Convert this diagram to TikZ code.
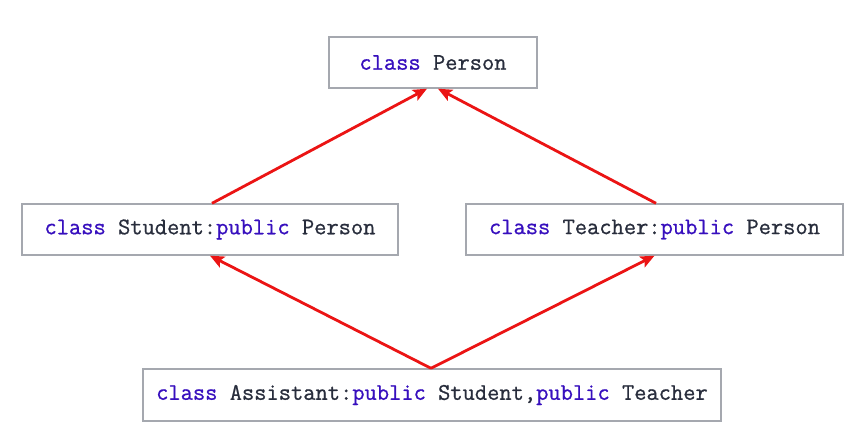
\documentclass[tikz,border=0pt]{standalone}
\usepackage{fontspec}
\newfontfamily\codefont[FakeBold=0.8]{Latin Modern Mono}
\usetikzlibrary{arrows.meta}
\definecolor{kw}{RGB}{55,15,190}
\definecolor{txt}{RGB}{40,45,60}
\definecolor{boxline}{RGB}{165,168,175}
\definecolor{arrred}{RGB}{235,20,20}
\tikzset{
  classbox/.style={draw=boxline, line width=1.4pt, fill=white, inner sep=0pt,
    minimum height=51pt, text=txt, font=\codefont\fontsize{23.8}{28}\selectfont},
  inherit/.style={draw=arrred, line width=2.8pt,
    -{Stealth[length=14pt,width=12pt,inset=3pt]}}
}
\newcommand{\kwd}[1]{\textcolor{kw}{#1}}
\begin{document}
\begin{tikzpicture}[x=1pt,y=-1pt]
\useasboundingbox (0,0) rectangle (867,441);
\node[classbox, minimum width=208pt] (person) at (433,62.5) {\kwd{class} Person};
\node[classbox, minimum width=376pt] (student) at (210,229.5) {\kwd{class} Student:\kwd{public} Person};
\node[classbox, minimum width=377pt] (teacher) at (654.5,229.5) {\kwd{class} Teacher:\kwd{public} Person};
\node[classbox, minimum width=578pt, minimum height=52pt] (assistant) at (432,395) {\kwd{class} Assistant:\kwd{public} Student,\kwd{public} Teacher};
\draw[inherit] ([xshift=2pt]student.north) -- ([xshift=-6pt]person.south);
\draw[inherit] ([xshift=1.5pt]teacher.north) -- ([xshift=5pt]person.south);
\draw[inherit] ([xshift=-1pt]assistant.north) -- (student.south);
\draw[inherit] ([xshift=-1pt]assistant.north) -- (teacher.south);
\end{tikzpicture}
\end{document}
